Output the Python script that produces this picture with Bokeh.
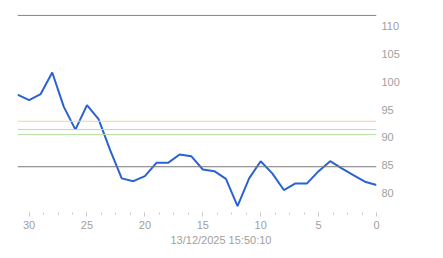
from bokeh.plotting import figure
from bokeh.models import ColumnDataSource, Span, FixedTicker, LinearAxis, Range1d, Title
from bokeh.embed import file_html
from bokeh.resources import INLINE

# data (x counts down from 31 to 0)
x_vals = list(range(31, -1, -1))
y_vals = [98.0, 97.0, 98.1, 102.0, 95.8, 91.7, 96.1, 93.6, 88.0, 82.9,
          82.4, 83.3, 85.7, 85.7, 87.2, 86.9, 84.5, 84.2, 82.8, 77.9,
          82.9, 86.0, 83.8, 80.8, 82.0, 82.0, 84.2, 86.0, 84.7, 83.5,
          82.3, 81.7]
gray_lines = [112.3, 85]
yellow_lines = [93.2]
green_lines = [91.7, 90.8]
x_ticks = [30, 25, 20, 15, 10, 5, 0]
y_ticks = [80, 85, 90, 95, 100, 105, 110]
x_label = "13/12/2025 15:50:10"

Y0, Y1 = 76.75, 112.45
p = figure(width=443, height=258, output_backend="svg", toolbar_location=None,
           x_range=Range1d(31, 0), y_range=Range1d(Y0, Y1),
           x_axis_location=None, y_axis_location=None,
           min_border_left=17, min_border_right=67, min_border_top=14, min_border_bottom=46)
p.outline_line_color = None
p.xgrid.grid_line_color = None
p.ygrid.grid_line_color = None
p.background_fill_color = "white"
p.border_fill_color = "white"
# label range shifted slightly so labels sit a little above their values, as in the original
p.extra_y_ranges = {"lab": Range1d(Y0 - 0.3, Y1 - 0.3)}

xa = LinearAxis(ticker=FixedTicker(ticks=x_ticks, minor_ticks=[x_ticks[0] + 1.25 - 1.25 * i for i in range(26)]))
xa.axis_line_color = None
xa.major_tick_line_color = "#c8c8c8"
xa.minor_tick_line_color = "#c8c8c8"
xa.major_tick_out = 4
xa.major_tick_in = 0
xa.minor_tick_out = 2
xa.minor_tick_in = 0
xa.major_label_standoff = 4
xa.major_label_text_color = "#a0a0a0"
xa.major_label_text_font = "Liberation Sans"
xa.major_label_text_font_size = "11px"
p.add_layout(xa, "below")

ya = LinearAxis(y_range_name="lab", ticker=FixedTicker(ticks=y_ticks))
ya.axis_line_color = None
ya.major_tick_line_color = None
ya.minor_tick_line_color = None
ya.major_tick_out = 0
ya.major_tick_in = 0
ya.major_label_standoff = 5
ya.major_label_text_color = "#a0a0a0"
ya.major_label_text_font = "Liberation Sans"
ya.major_label_text_font_size = "11px"
p.add_layout(ya, "right")

for v in gray_lines:
    p.add_layout(Span(location=v, dimension="width", line_color="#777777", line_width=1))
for v in yellow_lines:
    p.add_layout(Span(location=v, dimension="width", line_color="#ecdb8e", line_width=1))
for v in green_lines:
    p.add_layout(Span(location=v, dimension="width", line_color="#b6e0a2", line_width=1))

src = ColumnDataSource(dict(x=x_vals, y=y_vals))
p.line("x", "y", source=src, line_color="#2b62d3", line_width=2)

t = Title(text=x_label, align="left", offset=153, text_color="#a0a0a0",
          text_font="Liberation Sans", text_font_size="11px", text_font_style="normal",
          standoff=0)
p.add_layout(t, "below")

open("out.html", "w").write(file_html(p, INLINE))
